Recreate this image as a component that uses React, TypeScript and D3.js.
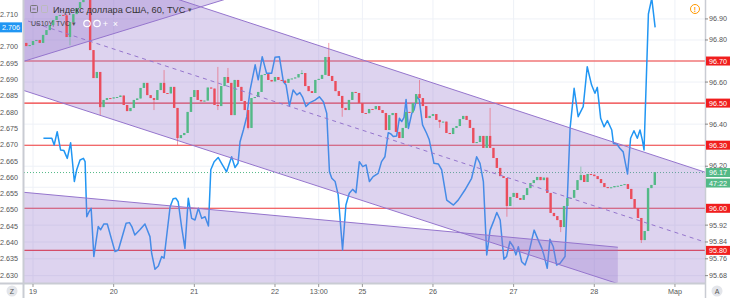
import React from 'react';
import * as d3 from 'd3';

// ---------- DATA ----------
// Hourly DXY candles (right axis). Bar index 0 = 19 Feb 00:00.
const firstBarIndex = -2;
const firstOpen = 96.786;
const closes = [
  96.771, 96.776, 96.795, 96.800, 96.786, 96.824, 96.847, 96.871, 96.895, 96.914,
  96.919, 96.917, 96.814, 96.885, 96.923, 96.952, 96.980, 97.009, 97.000, 96.752,
  96.619, 96.648, 96.481, 96.515, 96.524, 96.522, 96.527, 96.529, 96.536, 96.491,
  96.462, 96.477, 96.515, 96.522, 96.572, 96.596, 96.538, 96.524, 96.515, 96.562,
  96.596, 96.548, 96.546, 96.577, 96.477, 96.334, 96.348, 96.358, 96.458, 96.529,
  96.562, 96.515, 96.508, 96.512, 96.574, 96.569, 96.491, 96.486, 96.581, 96.624,
  96.596, 96.443, 96.610, 96.577, 96.510, 96.467, 96.382, 96.524, 96.529, 96.553,
  96.634, 96.638, 96.610, 96.603, 96.624, 96.610, 96.607, 96.596, 96.615, 96.617,
  96.622, 96.638, 96.643, 96.581, 96.557, 96.548, 96.610, 96.615, 96.634, 96.719,
  96.629, 96.605, 96.557, 96.534, 96.477, 96.467, 96.515, 96.553, 96.548, 96.500,
  96.453, 96.452, 96.472, 96.471, 96.486, 96.467, 96.453, 96.372, 96.443, 96.453,
  96.363, 96.334, 96.382, 96.458, 96.456, 96.500, 96.543, 96.524, 96.486, 96.429,
  96.439, 96.448, 96.420, 96.410, 96.412, 96.358, 96.353, 96.382, 96.391, 96.424,
  96.439, 96.420, 96.382, 96.310, 96.315, 96.344, 96.287, 96.344, 96.287, 96.239,
  96.192, 96.153, 96.144, 96.011, 96.054, 96.073, 96.049, 96.040, 96.063, 96.096,
  96.120, 96.134, 96.149, 96.134, 96.146, 96.073, 95.978, 95.963, 95.944, 95.911,
  96.011, 96.049, 96.050, 96.087, 96.134, 96.158, 96.125, 96.163, 96.160, 96.153,
  96.139, 96.120, 96.101, 96.096, 96.100, 96.106, 96.107, 96.111, 96.115, 96.092,
  96.044, 96.001, 95.954, 95.849, 95.892, 96.096, 96.111, 96.172,
];
// notable wicks: [bar index, price]
const wickHighs: [number, number][] = [
  [10, 96.925], [17, 97.02], [39, 96.657], [55, 96.672], [58, 96.667], [80, 96.657],
  [88, 96.786], [115, 96.610], [136, 96.477], [163, 96.198],
];
const wickLows: [number, number][] = [
  [11, 96.775], [20, 96.443], [36, 96.467], [43, 96.301], [55, 96.467], [64, 96.375],
  [92, 96.435], [106, 96.420], [121, 96.382], [141, 95.960], [157, 95.887], [181, 95.835],
];

// US10Y line (left axis): [bar index, yield]
const yieldSeries: [number, number][] = [
  [3.1, 2.6720], [5.6, 2.6720], [6.3, 2.6699], [7.2, 2.6740], [8.2, 2.6684], [9.2, 2.6682],
  [10.2, 2.6658], [11.2, 2.6706], [12.3, 2.6587], [13.0, 2.6623], [14.0, 2.6653], [15.0, 2.6658],
  [15.5, 2.6648], [16.0, 2.6479], [16.7, 2.6495], [17.3, 2.6505], [18.1, 2.6357], [19.4, 2.6449],
  [20.1, 2.6439], [21.1, 2.6457], [22.1, 2.6457], [24.4, 2.6372], [25.4, 2.6377], [27.7, 2.6459],
  [28.7, 2.6461], [29.4, 2.6449], [30.3, 2.6423], [31.8, 2.6439], [33.3, 2.6457], [34.8, 2.6418],
  [35.3, 2.6367], [36.3, 2.6318], [37.3, 2.6328], [38.3, 2.6357], [39.0, 2.6352], [39.8, 2.6423],
  [40.8, 2.6510], [41.7, 2.6534], [42.5, 2.6536], [43.2, 2.6525], [44.2, 2.6449], [45.2, 2.6382],
  [46.2, 2.6536], [47.2, 2.6474], [48.2, 2.6469], [49.2, 2.6505], [50.2, 2.6474], [51.2, 2.6479],
  [52.2, 2.6451], [52.9, 2.6623], [53.9, 2.6648], [55.1, 2.6661], [56.1, 2.6643], [57.6, 2.6617],
  [59.1, 2.6663], [60.1, 2.6630], [61.0, 2.6643], [61.6, 2.6709], [62.6, 2.6745], [63.6, 2.6786],
  [64.6, 2.6868], [66.1, 2.6945], [67.0, 2.6899], [68.2, 2.6970], [69.5, 2.6919], [71.0, 2.6919],
  [72.0, 2.6968], [73.3, 2.6970], [74.5, 2.6893], [75.3, 2.6883], [76.3, 2.6819], [77.4, 2.6868],
  [78.5, 2.6853], [79.4, 2.6860], [80.2, 2.6846], [81.2, 2.6817], [82.4, 2.6829], [83.9, 2.6837],
  [85.2, 2.6847], [86.4, 2.6832], [87.4, 2.6796], [88.2, 2.6617], [88.9, 2.6597], [89.9, 2.6587],
  [90.8, 2.6546], [92.1, 2.6377], [93.1, 2.6515], [94.1, 2.6551], [95.1, 2.6563], [96.1, 2.6553],
  [97.1, 2.6648], [98.1, 2.6633], [99.1, 2.6638], [100.1, 2.6587], [101.2, 2.6602], [102.7, 2.6612],
  [103.7, 2.6648], [104.7, 2.6663], [105.7, 2.6737], [106.5, 2.6733], [107.2, 2.6725], [108.2, 2.6727],
  [109.0, 2.6781], [109.7, 2.6771], [110.4, 2.6784], [111.0, 2.6839], [111.7, 2.6750], [112.7, 2.6796],
  [113.4, 2.6807], [114.2, 2.6847], [114.9, 2.6839], [115.9, 2.6761], [117.1, 2.6735], [117.9, 2.6715],
  [118.6, 2.6679], [119.3, 2.6643], [120.6, 2.6641], [121.6, 2.6623], [123.1, 2.6530], [125.1, 2.6515],
  [126.5, 2.6530], [128.5, 2.6561], [130.5, 2.6597], [132.0, 2.6663], [133.0, 2.6643], [134.0, 2.6587],
  [135.0, 2.6362], [136.0, 2.6438], [137.0, 2.6464], [138.0, 2.6492], [139.0, 2.6469], [140.1, 2.6349],
  [140.9, 2.6357], [141.9, 2.6403], [142.9, 2.6387], [143.7, 2.6362], [144.4, 2.6387], [145.4, 2.6341],
  [146.4, 2.6331], [147.4, 2.6362], [148.4, 2.6408], [149.1, 2.6438], [150.3, 2.6408], [151.4, 2.6382],
  [152.0, 2.6362], [153.0, 2.6321], [153.8, 2.6410], [154.8, 2.6387], [155.8, 2.6331], [156.8, 2.6336],
  [158.3, 2.6357], [159.8, 2.6750], [161.0, 2.6873], [162.2, 2.6786], [163.7, 2.6817], [164.9, 2.6939],
  [166.2, 2.6883], [167.2, 2.6858], [167.9, 2.6876], [168.9, 2.6781], [169.9, 2.6755], [170.9, 2.6774],
  [172.2, 2.6745], [172.7, 2.6704], [173.7, 2.6702], [174.6, 2.6689], [175.6, 2.6678], [176.9, 2.6610],
  [177.8, 2.6720], [178.8, 2.6743], [179.8, 2.6720], [180.6, 2.6745], [181.3, 2.6714], [181.8, 2.6684],
  [183.1, 2.7101], [184.1, 2.7149], [185.1, 2.7060],
];

// Axis ticks
const rightTicks = [96.90, 96.80, 96.60, 96.40, 96.20, 95.92, 95.84, 95.76, 95.68];
const redLevels = [96.70, 96.50, 96.30, 96.00, 95.80];
const leftTicks = [2.710, 2.700, 2.695, 2.690, 2.685, 2.680, 2.675, 2.670, 2.665, 2.660, 2.655, 2.650, 2.645, 2.640, 2.635, 2.630];
const timeTickIdx = [0, 24, 48, 72, 85, 98, 119, 143, 167, 191];
const timeTickLabels = ['19', '20', '21', '22', '13:00', '25', '26', '27', '28', 'Мар'];
const lastPrice = 96.17;
const countdown = '47:22';
const lastYield = 2.706;

// Drawings: [bar index, price] anchor pairs
const channelUpper: [number, number][] = [[43.7, 96.990], [199.9, 96.172]];
const channelLower: [number, number][] = [[-3.9, 96.566], [173.8, 95.643]];
const ascLine: [number, number][] = [[-3.9, 96.693], [56.5, 96.990]];
const bottomShapeTop: [number, number][] = [[-2.7, 96.076], [174.0, 95.815]];

const title = 'Индекс доллара США, 60, TVC';
const subTitle = 'US10Y, TVC';

// ---------- CHART ----------
const W = 730, H = 298;
const L = 24, R = 705, T = 0, B = 283;
const UP = '#53b987', DOWN = '#eb4d5c';
const PURPLE = '#9575cd';
const FILL = 'rgba(149,117,205,0.32)';
const FONT = '"Liberation Sans", Arial, sans-serif';

function lineAt(a: [number, number][]) {
  const [[i0, p0], [i1, p1]] = a;
  return (i: number) => p0 + ((p1 - p0) * (i - i0)) / (i1 - i0);
}

export default function App() {
  const x = d3.scaleLinear().domain([-2.678, 199.94]).range([L, R]);
  const yR = d3.scaleLinear().domain([95.645, 96.99]).range([B, T]);
  const yL = d3.scaleLinear().domain([2.62758, 2.71439]).range([B, T]);

  const hiMap = new Map(wickHighs);
  const loMap = new Map(wickLows);
  const candles = closes.map((c, k) => {
    const o = k === 0 ? firstOpen : closes[k - 1];
    const i = firstBarIndex + k;
    const h = Math.max(o, c, hiMap.get(i) ?? -Infinity);
    const l = Math.min(o, c, loMap.get(i) ?? Infinity);
    return { i, o, h, l, c };
  });

  const lineGen = d3.line<[number, number]>().x(d => x(d[0])).y(d => yL(d[1]));

  const iL = -6, iRr = 205;
  const up = lineAt(channelUpper), lo = lineAt(channelLower), asc = lineAt(ascLine), bot = lineAt(bottomShapeTop);
  const mid = (i: number) => (up(i) + lo(i)) / 2;
  const pt = (i: number, p: number) => `${x(i)},${yR(p)}`;
  const topP = 98, botP = 95.0;
  const botEnd = bottomShapeTop[1][0];

  const gridVals = [...rightTicks, ...redLevels, 96.1];
  const lastY = yR(lastPrice);
  // label baseline: nudge a tick label up when it would run into the last-price box
  const labelY = (v: number) => {
    const yy = yR(v);
    if (yy < lastY && lastY - yy < 9) return lastY - 5;
    return yy + 2.5;
  };

  return (
    <svg width={W} height={H} style={{ position: 'absolute', left: 0, top: 0, background: '#fff' }} fontFamily={FONT}>
      <defs>
        <clipPath id="plot"><rect x={L} y={T} width={R - L} height={B - T} /></clipPath>
      </defs>
      <rect x={0} y={0} width={W} height={H} fill="#fff" />
      <g clipPath="url(#plot)">
        {/* grid */}
        {gridVals.map(v => (
          <line key={'g' + v} x1={L} x2={R} y1={yR(v)} y2={yR(v)} stroke="#eef1f7" strokeWidth={1} />
        ))}
        {timeTickIdx.map(i => (
          <line key={'v' + i} x1={x(i)} x2={x(i)} y1={T} y2={B} stroke="#eef1f7" strokeWidth={1} />
        ))}
        {/* horizontal levels */}
        {redLevels.map(v => (
          <line key={'r' + v} x1={L} x2={R} y1={yR(v)} y2={yR(v)} stroke="#f23a3a" strokeWidth={1.1} />
        ))}
        <line x1={L} x2={R} y1={lastY} y2={lastY} stroke={UP} strokeWidth={1} strokeDasharray="1 2" />
        {/* yield line */}
        <path d={lineGen(yieldSeries) || ''} fill="none" stroke="#2196f3" strokeWidth={1.5} strokeLinejoin="round" />
        {/* drawings fills */}
        <polygon points={[pt(iL, asc(iL)), pt(iRr, asc(iRr)), pt(iRr, topP), pt(iL, topP)].join(' ')} fill={FILL} />
        <polygon points={[pt(iL, up(iL)), pt(iRr, up(iRr)), pt(iRr, lo(iRr)), pt(iL, lo(iL))].join(' ')} fill={FILL} />
        <polygon points={[pt(iL, bot(iL)), pt(botEnd, bot(botEnd)), pt(botEnd, botP), pt(iL, botP)].join(' ')} fill={FILL} />
        {/* candles */}
        {candles.map(d => {
          const col = d.c >= d.o ? UP : DOWN;
          const cx = x(d.i);
          const yt = Math.min(yR(d.o), yR(d.c));
          const hgt = Math.max(1, Math.abs(yR(d.o) - yR(d.c)));
          return (
            <g key={'c' + d.i}>
              <line x1={cx} x2={cx} y1={yR(d.h)} y2={yR(d.l)} stroke={col} strokeOpacity={0.55} strokeWidth={1} />
              <rect x={cx - 1.2} y={yt} width={2.4} height={hgt} fill={col} />
            </g>
          );
        })}
        {/* drawing lines */}
        <line x1={x(iL)} y1={yR(asc(iL))} x2={x(iRr)} y2={yR(asc(iRr))} stroke={PURPLE} strokeWidth={1} />
        <line x1={x(iL)} y1={yR(up(iL))} x2={x(iRr)} y2={yR(up(iRr))} stroke={PURPLE} strokeWidth={1} />
        <line x1={x(iL)} y1={yR(lo(iL))} x2={x(iRr)} y2={yR(lo(iRr))} stroke={PURPLE} strokeWidth={1} />
        <line x1={x(iL)} y1={yR(mid(iL))} x2={x(iRr)} y2={yR(mid(iRr))} stroke={PURPLE} strokeWidth={1} strokeDasharray="4 4" />
        <line x1={x(iL)} y1={yR(bot(iL))} x2={x(botEnd)} y2={yR(bot(botEnd))} stroke={PURPLE} strokeWidth={1} />
      </g>

      {/* borders */}
      <line x1={L - 0.5} x2={L - 0.5} y1={0} y2={B} stroke="#c9ccd3" strokeWidth={2} />
      <line x1={R + 0.5} x2={R + 0.5} y1={0} y2={H} stroke="#c9ccd3" strokeWidth={1.5} />
      <line x1={0} x2={R} y1={B + 0.5} y2={B + 0.5} stroke="#c9ccd3" strokeWidth={2} />
      <line x1={L - 0.5} x2={L - 0.5} y1={B} y2={H} stroke="#c9ccd3" strokeWidth={2} />

      {/* left axis */}
      {leftTicks.map(v => (
        <text key={'lt' + v} x={18} y={yL(v) + 2.5} fontSize={7.2} fill="#555" textAnchor="end">{v.toFixed(3)}</text>
      ))}
      <rect x={0} y={yL(lastYield) - 5} width={22} height={10} fill="#2196f3" />
      <text x={11} y={yL(lastYield) + 2.5} fontSize={7.2} fill="#fff" textAnchor="middle">{lastYield.toFixed(3)}</text>

      {/* right axis */}
      {rightTicks.map(v => (
        <g key={'rt' + v}>
          <line x1={R} x2={R + 3} y1={yR(v)} y2={yR(v)} stroke="#888" />
          <text x={709} y={labelY(v)} fontSize={7.2} fill="#555">{v.toFixed(2)}</text>
        </g>
      ))}
      {redLevels.map(v => (
        <g key={'rl' + v}>
          <rect x={R + 1} y={yR(v) - 4.5} width={W - R - 1} height={9} fill="#f01e1e" />
          <text x={709} y={yR(v) + 2.5} fontSize={7.2} fill="#fff">{v.toFixed(2)}</text>
        </g>
      ))}
      <rect x={R + 1} y={lastY - 4.5} width={W - R - 1} height={9} fill={UP} />
      <text x={709} y={lastY + 2.5} fontSize={7.2} fill="#fff">{lastPrice.toFixed(2)}</text>
      <rect x={R + 1} y={lastY + 6} width={W - R - 1} height={9} fill={UP} />
      <text x={709} y={lastY + 13} fontSize={7.2} fill="#fff">{countdown}</text>

      {/* bottom axis */}
      {timeTickIdx.map((i, k) => (
        <g key={'tt' + i}>
          <line x1={x(i)} x2={x(i)} y1={B + 1} y2={B + 4} stroke="#999" />
          <text x={x(i)} y={294} fontSize={7.2} fill="#555" textAnchor="middle">{timeTickLabels[k]}</text>
        </g>
      ))}
      <circle cx={12} cy={291} r={5.5} fill="#e3e5ea" />
      <text x={12} y={293.5} fontSize={7} fill="#555" textAnchor="middle">Z</text>
      <circle cx={717} cy={291} r={5.5} fill="#e3e5ea" />
      <text x={717} y={293.5} fontSize={7} fill="#555" textAnchor="middle">A</text>

      {/* legend */}
      <rect x={30.5} y={5.5} width={7} height={7} fill="none" stroke="#777" rx={1} />
      <line x1={32.5} x2={35.5} y1={9} y2={9} stroke="#777" />
      <rect x={41.5} y={5.5} width={6} height={7} fill="none" stroke="#bbb" rx={1} />
      <text x={53} y={12.5} fontSize={9.2} fill="#333">{title}</text>
      <text x={188} y={12} fontSize={7} fill="#555">▾</text>
      <text x={31} y={26} fontSize={7} fill="#444">{subTitle}</text>
      <text x={72} y={26} fontSize={6.5} fill="#555">▾</text>
      <circle cx={87} cy={23.5} r={3.2} fill="none" stroke="#fff" strokeWidth={1.2} />
      <circle cx={97} cy={23.5} r={3.2} fill="none" stroke="#fff" strokeWidth={1.2} />
      <text x={105.5} y={27} fontSize={9} fill="#fff" textAnchor="middle">+</text>
      <text x={115.5} y={26.5} fontSize={9} fill="#fff" textAnchor="middle">×</text>

      {/* alert icon */}
      <circle cx={695} cy={9} r={4.5} fill="#fff" stroke="#ff9800" strokeWidth={1} />
      <text x={695} y={11.8} fontSize={7} fill="#ff9800" textAnchor="middle" fontWeight="bold">!</text>
    </svg>
  );
}
